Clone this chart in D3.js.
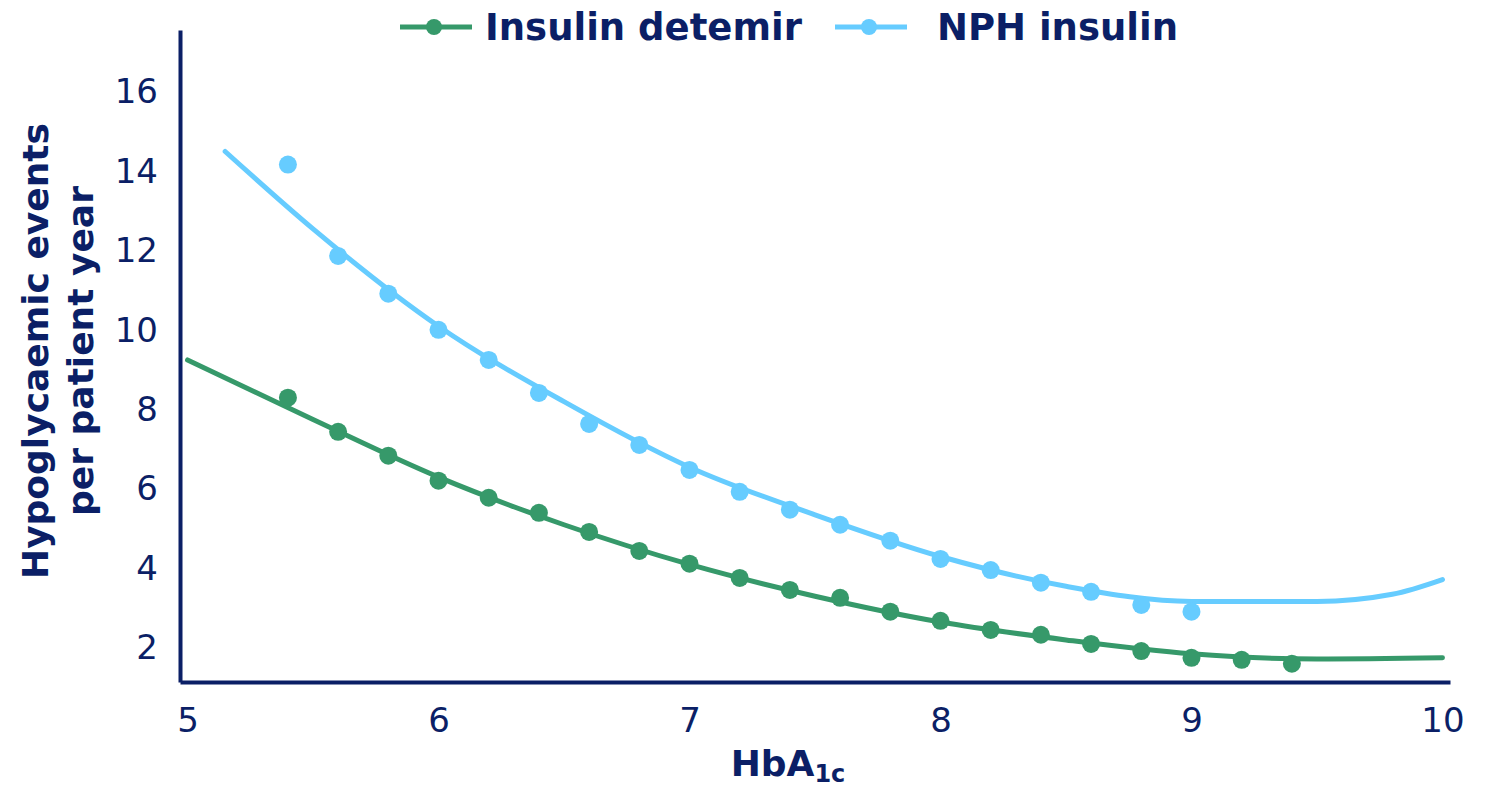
<!DOCTYPE html>
<html>
<head>
<meta charset="utf-8">
<script src="https://cdn.jsdelivr.net/npm/d3@7"></script>
<style>
  body { margin: 0; background: #fff; }
  text { font-family: "DejaVu Sans", Verdana, sans-serif; }
</style>
</head>
<body>
<div id="chart"></div>
<script>
// observed points, HbA1c every 0.2
const detemirX = [5.4, 5.6, 5.8, 6.0, 6.2, 6.4, 6.6, 6.8, 7.0, 7.2, 7.4, 7.6, 7.8, 8.0, 8.2, 8.4, 8.6, 8.8, 9.0, 9.2, 9.4];
const detemirY = [8.3, 7.44, 6.84, 6.21, 5.78, 5.4, 4.92, 4.44, 4.12, 3.76, 3.46, 3.26, 2.91, 2.68, 2.45, 2.33, 2.1, 1.92, 1.75, 1.7, 1.6];
const nphX = [5.4, 5.6, 5.8, 6.0, 6.2, 6.4, 6.6, 6.8, 7.0, 7.2, 7.4, 7.6, 7.8, 8.0, 8.2, 8.4, 8.6, 8.8, 9.0];
const nphY = [14.17, 11.87, 10.92, 10.01, 9.25, 8.42, 7.64, 7.11, 6.48, 5.93, 5.48, 5.1, 4.7, 4.24, 3.96, 3.64, 3.41, 3.08, 2.91];

// fitted curves
const detemirFitX = [5.0, 5.5, 6.0, 6.5, 7.0, 7.5, 8.0, 8.5, 9.0, 9.5, 10.0];
const detemirFitY = [9.25, 7.75, 6.3, 5.1, 4.1, 3.3, 2.65, 2.2, 1.85, 1.72, 1.75];
const nphFitX = [5.15, 5.5, 6.0, 6.5, 7.0, 7.5, 8.0, 8.5, 9.0, 9.5, 9.8, 10.0];
const nphFitY = [14.5, 12.55, 10.1, 8.2, 6.55, 5.35, 4.3, 3.55, 3.17, 3.17, 3.35, 3.72];

const xTicks = [5, 6, 7, 8, 9, 10];
const yTicks = [2, 4, 6, 8, 10, 12, 14, 16];

const green = "#36996a";
const blue = "#66ccff";
const navy = "#0b1f66";

const svg = d3.select("#chart").append("svg")
  .attr("width", 1486)
  .attr("height", 792);

const x = d3.scaleLinear().domain([4.97, 10.03]).range([180, 1450]);
const y = d3.scaleLinear().domain([1.14, 17.56]).range([682, 30]);

// axes
const xAxis = svg.append("g")
  .attr("transform", "translate(0,682)")
  .call(d3.axisBottom(x).tickValues(xTicks).tickSize(0).tickPadding(26).tickFormat(d3.format("d")));
const yAxis = svg.append("g")
  .attr("transform", "translate(180,0)")
  .call(d3.axisLeft(y).tickValues(yTicks).tickSize(0).tickPadding(22).tickFormat(d3.format("d")));

[xAxis, yAxis].forEach(g => {
  g.select(".domain").attr("stroke", navy).attr("stroke-width", 4);
  g.selectAll("text").attr("fill", navy).attr("font-size", 34)
    .attr("font-family", "'DejaVu Sans', Verdana, sans-serif");
});

// curves
const line = d3.line().x(d => x(d[0])).y(d => y(d[1])).curve(d3.curveMonotoneX);

function drawSeries(fx, fy, px, py, color) {
  svg.append("path")
    .datum(d3.zip(fx, fy))
    .attr("d", line)
    .attr("fill", "none")
    .attr("stroke", color)
    .attr("stroke-width", 5)
    .attr("stroke-linecap", "round");

  svg.append("g").selectAll("circle")
    .data(d3.zip(px, py))
    .enter()
    .append("circle")
    .attr("cx", d => x(d[0]))
    .attr("cy", d => y(d[1]))
    .attr("r", 9)
    .attr("fill", color);
}

drawSeries(nphFitX, nphFitY, nphX, nphY, blue);
drawSeries(detemirFitX, detemirFitY, detemirX, detemirY, green);

// legend
const legend = [
  { label: "Insulin detemir", color: green, x: 400, tx: 85 },
  { label: "NPH insulin", color: blue, x: 835, tx: 102 }
];
legend.forEach(item => {
  const g = svg.append("g").attr("transform", `translate(${item.x},27)`);
  g.append("line").attr("x1", 0).attr("x2", 72).attr("y1", 0).attr("y2", 0)
    .attr("stroke", item.color).attr("stroke-width", 5);
  g.append("circle").attr("cx", 34).attr("cy", 0).attr("r", 8).attr("fill", item.color);
  g.append("text").attr("x", item.tx).attr("y", 13)
    .attr("font-size", 37).attr("font-weight", "bold").attr("fill", navy)
    .text(item.label);
});

// y title
const yTitle = svg.append("text")
  .attr("transform", "translate(0,351) rotate(-90)")
  .attr("text-anchor", "middle")
  .attr("font-size", 36)
  .attr("font-weight", "bold")
  .attr("fill", navy);
yTitle.append("tspan").attr("x", 0).attr("y", 48).text("Hypoglycaemic events");
yTitle.append("tspan").attr("x", 0).attr("y", 93).text("per patient year");

// x title
const xTitle = svg.append("text")
  .attr("x", 788)
  .attr("y", 776)
  .attr("text-anchor", "middle")
  .attr("font-size", 36)
  .attr("font-weight", "bold")
  .attr("fill", navy);
xTitle.append("tspan").text("HbA");
xTitle.append("tspan").attr("font-size", 24).attr("dy", 6).text("1c");
</script>
</body>
</html>
